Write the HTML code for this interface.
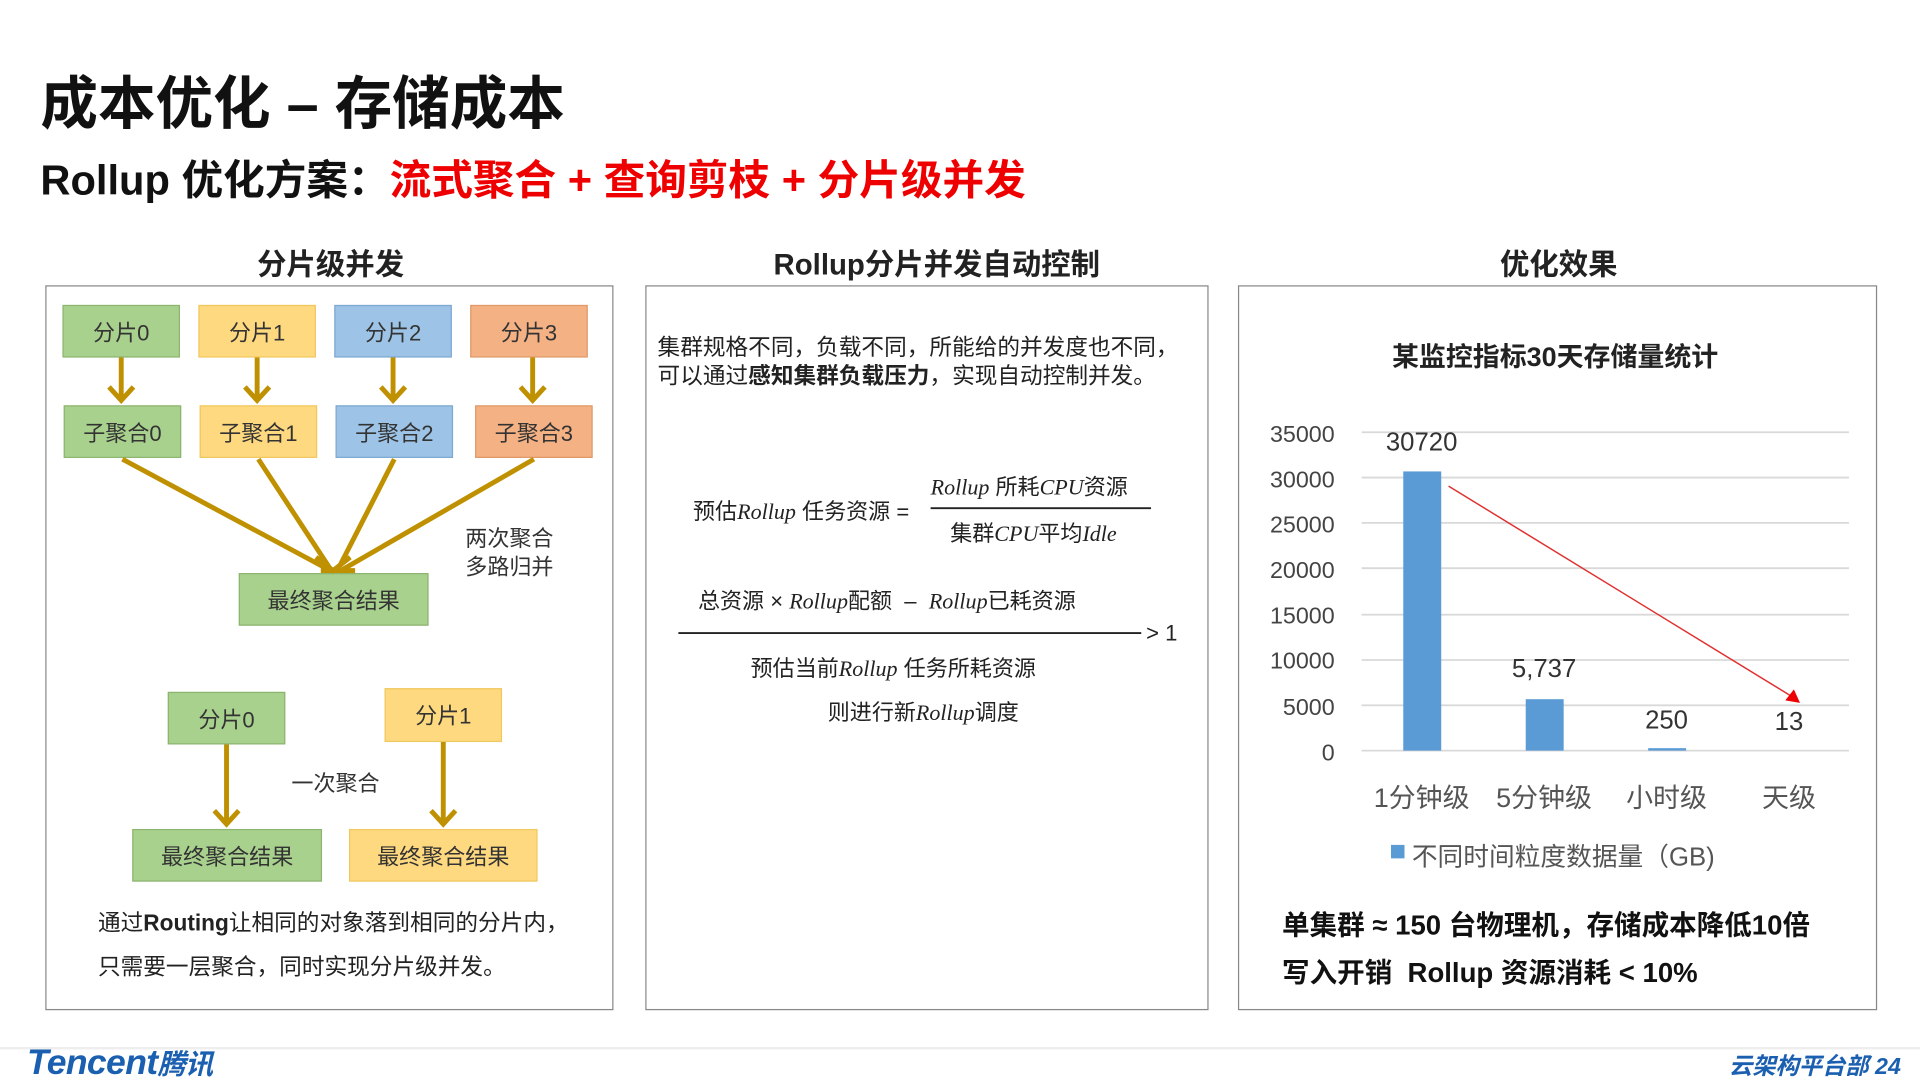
<!DOCTYPE html>
<html><head><meta charset="utf-8"><style>
html,body{margin:0;padding:0;background:#fff;overflow:hidden}
#s{position:absolute;left:0;top:0;width:1568px;height:882px;transform:scale(1.22449);transform-origin:0 0;font-family:"Liberation Sans","Noto Sans CJK SC",sans-serif;color:#222}
.a{position:absolute;white-space:nowrap}
.b{position:absolute;display:flex;align-items:center;justify-content:center;font-size:18px;color:#333;box-sizing:border-box}
.g{background:#a9d18e;border:1px solid #8cb56f}
.y{background:#ffd97f;border:1px solid #f0c860}
.bl{background:#9dc3e6;border:1px solid #7ea9d1}
.o{background:#f4b183;border:1px solid #e09a6a}
.p{position:absolute;border:1.5px solid #888;box-sizing:border-box}
.h{position:absolute;font-weight:bold;font-size:24px;transform:translateX(-50%);white-space:nowrap}
i{font-family:"Liberation Serif",serif}
</style></head><body><div id="s">
<div class="a" style="left:33px;top:46px;font-size:47px;font-weight:bold;color:#111">成本优化 – 存储成本</div>
<div class="a" style="left:33px;top:120px;font-size:34px;font-weight:bold;color:#111">Rollup 优化方案：<span style="color:#e00">流式聚合 + 查询剪枝 + 分片级并发</span></div>
<div class="h" style="left:270px;top:196px">分片级并发</div>
<div class="h" style="left:765px;top:196px">Rollup分片并发自动控制</div>
<div class="h" style="left:1273px;top:196px">优化效果</div>
<div class="p" style="left:37px;top:233px;width:464px;height:592px"></div>
<div class="p" style="left:527px;top:233px;width:460px;height:592px"></div>
<div class="p" style="left:1011px;top:233px;width:522px;height:592px"></div>

<div class="b g" style="left:51px;top:249px;width:96px;height:43px">分片0</div>
<div class="b y" style="left:162px;top:249px;width:96px;height:43px">分片1</div>
<div class="b bl" style="left:273px;top:249px;width:96px;height:43px">分片2</div>
<div class="b o" style="left:384px;top:249px;width:96px;height:43px">分片3</div>
<div class="b g" style="left:52px;top:331px;width:96px;height:43px">子聚合0</div>
<div class="b y" style="left:163px;top:331px;width:96px;height:43px">子聚合1</div>
<div class="b bl" style="left:274px;top:331px;width:96px;height:43px">子聚合2</div>
<div class="b o" style="left:388px;top:331px;width:96px;height:43px">子聚合3</div>
<div class="b g" style="left:195px;top:468px;width:155px;height:43px">最终聚合结果</div>
<div class="b g" style="left:137px;top:565px;width:96px;height:43px">分片0</div>
<div class="b y" style="left:314px;top:562px;width:96px;height:44px">分片1</div>
<div class="b g" style="left:108px;top:677px;width:155px;height:43px">最终聚合结果</div>
<div class="b y" style="left:285px;top:677px;width:154px;height:43px">最终聚合结果</div>
<svg class="a" style="left:0;top:0" width="1568" height="882">
<g stroke="#bf9000" stroke-width="4" fill="none">
<path d="M99 292V326M89 316L99 327L109 316M210 292V326M200 316L210 327L220 316M321 292V326M311 316L321 327L331 316M435 292V326M425 316L435 327L445 316"/>
<path d="M100 375L268 465M211 375L270 465M322 375L276 465M436 375L280 465"/>
<path d="M258 455L272 466L286 455M262 466H290"/>
<path d="M185 608V672M175 662L185 673L195 662M362 606V672M352 662L362 673L372 662"/>
</g>
<g stroke="#d9d9d9" stroke-width="1.5">
<line x1="1112" y1="353" x2="1510" y2="353"/><line x1="1112" y1="390" x2="1510" y2="390"/><line x1="1112" y1="427" x2="1510" y2="427"/><line x1="1112" y1="464" x2="1510" y2="464"/><line x1="1112" y1="502" x2="1510" y2="502"/><line x1="1112" y1="539" x2="1510" y2="539"/><line x1="1112" y1="576" x2="1510" y2="576"/><line x1="1112" y1="613" x2="1510" y2="613"/>
</g>
<rect x="1146" y="385" width="31" height="228" fill="#5b9bd5"/>
<rect x="1246" y="571" width="31" height="42" fill="#5b9bd5"/>
<rect x="1346" y="611" width="31" height="2" fill="#5b9bd5"/>
<line x1="1183" y1="397" x2="1462" y2="568" stroke="#e03030" stroke-width="1.2"/>
<path d="M1470 574L1458 572L1465 563Z" fill="#e00"/>
<rect x="1136" y="690" width="11" height="11" fill="#5b9bd5"/>
<line x1="554" y1="517" x2="932" y2="517" stroke="#222" stroke-width="1.5"/>
<line x1="760" y1="415" x2="940" y2="415" stroke="#222" stroke-width="1.5"/>
<line x1="0" y1="856" x2="1568" y2="856" stroke="#eee" stroke-width="2"/>
</svg>
<div class="a" style="left:380px;top:429px;font-size:18px;line-height:23px;color:#333">两次聚合<br>多路归并</div>
<div class="a" style="left:238px;top:626px;font-size:18px;color:#333">一次聚合</div>
<div class="a" style="left:80px;top:740px;font-size:18.5px;color:#222">通过<b>Routing</b>让相同的对象落到相同的分片内，</div>
<div class="a" style="left:80px;top:776px;font-size:18.5px;color:#222">只需要一层聚合，同时实现分片级并发。</div>

<div class="a" style="left:537px;top:272px;font-size:18.5px;line-height:23px;color:#222">集群规格不同，负载不同，所能给的并发度也不同，<br>可以通过<b>感知集群负载压力</b>，实现自动控制并发。</div>
<div class="a" style="left:566px;top:404px;font-size:18px;color:#222">预估<i>Rollup</i> 任务资源 =</div>
<div class="a" style="left:760px;top:384px;font-size:18px;color:#222"><i>Rollup</i> 所耗<i>CPU</i>资源</div>
<div class="a" style="left:776px;top:422px;font-size:18px;color:#222">集群<i>CPU</i>平均<i>Idle</i></div>
<div class="a" style="left:570px;top:477px;font-size:18px;color:#222">总资源 × <i>Rollup</i>配额 &nbsp;– &nbsp;<i>Rollup</i>已耗资源</div>
<div class="a" style="left:936px;top:507px;font-size:18px;color:#222">&gt; 1</div>
<div class="a" style="left:613px;top:532px;font-size:18px;color:#222">预估当前<i>Rollup</i> 任务所耗资源</div>
<div class="a" style="left:676px;top:568px;font-size:18px;color:#222">则进行新<i>Rollup</i>调度</div>

<div class="a" style="left:1270px;top:274px;font-size:22px;font-weight:bold;transform:translateX(-50%)">某监控指标30天存储量统计</div>
<div class="a" style="left:1020px;top:337px;width:70px;text-align:right;font-size:19px;line-height:37.1px;color:#444">35000<br>30000<br>25000<br>20000<br>15000<br>10000<br>5000<br>0</div>
<div class="a" style="left:1161px;top:350px;font-size:21px;color:#333;transform:translateX(-50%)">30720</div>
<div class="a" style="left:1261px;top:535px;font-size:21px;color:#333;transform:translateX(-50%)">5,737</div>
<div class="a" style="left:1361px;top:577px;font-size:21px;color:#333;transform:translateX(-50%)">250</div>
<div class="a" style="left:1461px;top:578px;font-size:21px;color:#333;transform:translateX(-50%)">13</div>
<div class="a" style="left:1161px;top:634px;font-size:22px;color:#555;transform:translateX(-50%)">1分钟级</div>
<div class="a" style="left:1261px;top:634px;font-size:22px;color:#555;transform:translateX(-50%)">5分钟级</div>
<div class="a" style="left:1361px;top:634px;font-size:22px;color:#555;transform:translateX(-50%)">小时级</div>
<div class="a" style="left:1461px;top:634px;font-size:22px;color:#555;transform:translateX(-50%)">天级</div>
<div class="a" style="left:1153px;top:684px;font-size:21px;color:#555">不同时间粒度数据量（GB)</div>
<div class="a" style="left:1047px;top:738px;font-size:22.5px;font-weight:bold;color:#111">单集群 ≈ 150 台物理机，存储成本降低10倍</div>
<div class="a" style="left:1047px;top:777px;font-size:22.5px;font-weight:bold;color:#111">写入开销 &nbsp;Rollup 资源消耗 &lt; 10%</div>

<div class="a" style="left:22px;top:850px;font-size:29px;font-weight:bold;font-style:italic;color:#1b5fb0;letter-spacing:-0.5px">Tencent<span style="font-size:23px">腾讯</span></div>
<div class="a" style="left:1412px;top:856px;font-size:19px;font-weight:bold;font-style:italic;color:#1b5fb0">云架构平台部 24</div>
</div></body></html>
